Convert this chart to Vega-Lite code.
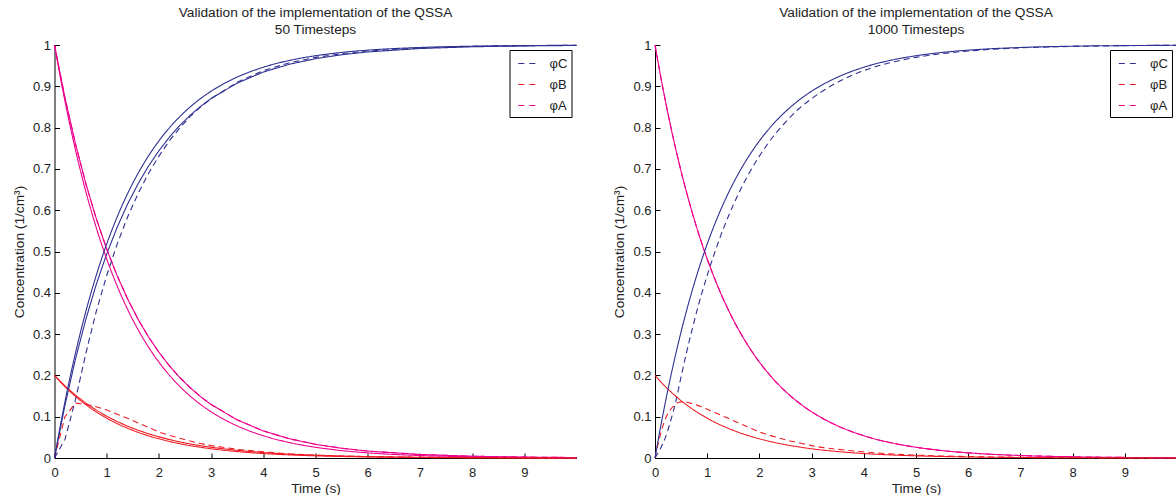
{
  "$schema": "https://vega.github.io/schema/vega-lite/v6.json",
  "padding": {"left": 11.5, "top": 6, "right": 0, "bottom": 0},
  "config": {
    "font": "Liberation Sans",
    "view": {"stroke": null},
    "title": {"fontSize": 13.7, "fontWeight": "normal", "color": "#222", "lineHeight": 17, "offset": 2, "anchor": "middle"},
    "axis": {
      "grid": false,
      "domainColor": "#000",
      "tickColor": "#000",
      "tickSize": -5,
      "labelFontSize": 13,
      "labelColor": "#222",
      "labelFlush": false,
      "labelOverlap": false,
      "titleFontSize": 13.7,
      "titleFontWeight": "normal",
      "titleColor": "#222"
    },
    "axisX": {"labelPadding": 13, "titlePadding": 2},
    "axisY": {"labelPadding": 9, "titlePadding": 6},
    "legend": {
      "orient": "top-right",
      "offset": 5,
      "symbolType": "stroke",
      "symbolDash": [6, 5],
      "symbolSize": 300,
      "symbolStrokeWidth": 1,
      "symbolOffset": 4,
      "labelFontSize": 13,
      "labelColor": "#222",
      "labelOffset": 13,
      "rowPadding": 4,
      "padding": 4,
      "strokeColor": "#000",
      "fillColor": "#fff"
    }
  },
  "data": {
    "values": [
      {"panel": "50", "curve": "exact", "time": 0, "A": 1, "B": 0.2, "C": 0},
      {"panel": "50", "curve": "exact", "time": 0.1, "A": 0.9296, "B": 0.1859, "C": 0.0704},
      {"panel": "50", "curve": "exact", "time": 0.2, "A": 0.8642, "B": 0.1728, "C": 0.1358},
      {"panel": "50", "curve": "exact", "time": 0.3, "A": 0.8033, "B": 0.1607, "C": 0.1967},
      {"panel": "50", "curve": "exact", "time": 0.4, "A": 0.7468, "B": 0.1494, "C": 0.2532},
      {"panel": "50", "curve": "exact", "time": 0.5, "A": 0.6942, "B": 0.1388, "C": 0.3058},
      {"panel": "50", "curve": "exact", "time": 0.6, "A": 0.6453, "B": 0.1291, "C": 0.3547},
      {"panel": "50", "curve": "exact", "time": 0.8, "A": 0.5577, "B": 0.1115, "C": 0.4423},
      {"panel": "50", "curve": "exact", "time": 1, "A": 0.4819, "B": 0.0964, "C": 0.5181},
      {"panel": "50", "curve": "exact", "time": 1.2, "A": 0.4165, "B": 0.0833, "C": 0.5835},
      {"panel": "50", "curve": "exact", "time": 1.4, "A": 0.3599, "B": 0.072, "C": 0.6401},
      {"panel": "50", "curve": "exact", "time": 1.6, "A": 0.311, "B": 0.0622, "C": 0.689},
      {"panel": "50", "curve": "exact", "time": 1.8, "A": 0.2687, "B": 0.0537, "C": 0.7313},
      {"panel": "50", "curve": "exact", "time": 2, "A": 0.2322, "B": 0.0464, "C": 0.7678},
      {"panel": "50", "curve": "exact", "time": 2.25, "A": 0.1935, "B": 0.0387, "C": 0.8065},
      {"panel": "50", "curve": "exact", "time": 2.5, "A": 0.1612, "B": 0.0322, "C": 0.8388},
      {"panel": "50", "curve": "exact", "time": 2.75, "A": 0.1343, "B": 0.0269, "C": 0.8657},
      {"panel": "50", "curve": "exact", "time": 3, "A": 0.1119, "B": 0.0224, "C": 0.8881},
      {"panel": "50", "curve": "exact", "time": 3.5, "A": 0.0777, "B": 0.0155, "C": 0.9223},
      {"panel": "50", "curve": "exact", "time": 4, "A": 0.0539, "B": 0.0108, "C": 0.9461},
      {"panel": "50", "curve": "exact", "time": 4.5, "A": 0.0374, "B": 0.0075, "C": 0.9626},
      {"panel": "50", "curve": "exact", "time": 5, "A": 0.026, "B": 0.0052, "C": 0.974},
      {"panel": "50", "curve": "exact", "time": 5.5, "A": 0.018, "B": 0.0036, "C": 0.982},
      {"panel": "50", "curve": "exact", "time": 6, "A": 0.0125, "B": 0.0025, "C": 0.9875},
      {"panel": "50", "curve": "exact", "time": 7, "A": 0.006, "B": 0.0012, "C": 0.994},
      {"panel": "50", "curve": "exact", "time": 8, "A": 0.0029, "B": 0.0006, "C": 0.9971},
      {"panel": "50", "curve": "exact", "time": 9, "A": 0.0014, "B": 0.0003, "C": 0.9986},
      {"panel": "50", "curve": "exact", "time": 10, "A": 0.0007, "B": 0.0001, "C": 0.9993},

      {"panel": "50", "curve": "numeric", "time": 0, "A": 1, "B": 0.2, "C": 0},
      {"panel": "50", "curve": "numeric", "time": 0.2, "A": 0.8726, "B": 0.1745, "C": 0.1274},
      {"panel": "50", "curve": "numeric", "time": 0.4, "A": 0.7614, "B": 0.1523, "C": 0.2386},
      {"panel": "50", "curve": "numeric", "time": 0.6, "A": 0.6644, "B": 0.1329, "C": 0.3356},
      {"panel": "50", "curve": "numeric", "time": 0.8, "A": 0.5798, "B": 0.116, "C": 0.4202},
      {"panel": "50", "curve": "numeric", "time": 1, "A": 0.5059, "B": 0.1012, "C": 0.4941},
      {"panel": "50", "curve": "numeric", "time": 1.2, "A": 0.4415, "B": 0.0883, "C": 0.5585},
      {"panel": "50", "curve": "numeric", "time": 1.4, "A": 0.3852, "B": 0.077, "C": 0.6148},
      {"panel": "50", "curve": "numeric", "time": 1.6, "A": 0.3362, "B": 0.0672, "C": 0.6638},
      {"panel": "50", "curve": "numeric", "time": 1.8, "A": 0.2933, "B": 0.0587, "C": 0.7067},
      {"panel": "50", "curve": "numeric", "time": 2, "A": 0.256, "B": 0.0512, "C": 0.744},
      {"panel": "50", "curve": "numeric", "time": 2.2, "A": 0.2234, "B": 0.0447, "C": 0.7766},
      {"panel": "50", "curve": "numeric", "time": 2.4, "A": 0.1949, "B": 0.039, "C": 0.8051},
      {"panel": "50", "curve": "numeric", "time": 2.6, "A": 0.1701, "B": 0.034, "C": 0.8299},
      {"panel": "50", "curve": "numeric", "time": 2.8, "A": 0.1484, "B": 0.0297, "C": 0.8516},
      {"panel": "50", "curve": "numeric", "time": 3, "A": 0.1295, "B": 0.0259, "C": 0.8705},
      {"panel": "50", "curve": "numeric", "time": 3.5, "A": 0.0923, "B": 0.0185, "C": 0.9077},
      {"panel": "50", "curve": "numeric", "time": 4, "A": 0.0655, "B": 0.0131, "C": 0.9345},
      {"panel": "50", "curve": "numeric", "time": 4.5, "A": 0.0466, "B": 0.0093, "C": 0.9534},
      {"panel": "50", "curve": "numeric", "time": 5, "A": 0.0331, "B": 0.0066, "C": 0.9669},
      {"panel": "50", "curve": "numeric", "time": 5.5, "A": 0.0236, "B": 0.0047, "C": 0.9764},
      {"panel": "50", "curve": "numeric", "time": 6, "A": 0.0168, "B": 0.0034, "C": 0.9832},
      {"panel": "50", "curve": "numeric", "time": 7, "A": 0.0085, "B": 0.0017, "C": 0.9915},
      {"panel": "50", "curve": "numeric", "time": 8, "A": 0.0043, "B": 0.0009, "C": 0.9957},
      {"panel": "50", "curve": "numeric", "time": 9, "A": 0.0022, "B": 0.0004, "C": 0.9978},
      {"panel": "50", "curve": "numeric", "time": 10, "A": 0.0011, "B": 0.0002, "C": 0.9989},

      {"panel": "50", "curve": "qssa", "time": 0, "A": 1, "B": 0, "C": 0},
      {"panel": "50", "curve": "qssa", "time": 0.2, "A": 0.8726, "B": 0.1, "C": 0.045},
      {"panel": "50", "curve": "qssa", "time": 0.4, "A": 0.7614, "B": 0.133, "C": 0.14},
      {"panel": "50", "curve": "qssa", "time": 0.6, "A": 0.6644, "B": 0.13, "C": 0.253},
      {"panel": "50", "curve": "qssa", "time": 0.8, "A": 0.5798, "B": 0.124, "C": 0.355},
      {"panel": "50", "curve": "qssa", "time": 1, "A": 0.5059, "B": 0.116, "C": 0.442},
      {"panel": "50", "curve": "qssa", "time": 1.2, "A": 0.4415, "B": 0.106, "C": 0.518},
      {"panel": "50", "curve": "qssa", "time": 1.4, "A": 0.3852, "B": 0.096, "C": 0.5835},
      {"panel": "50", "curve": "qssa", "time": 1.6, "A": 0.3362, "B": 0.085, "C": 0.64},
      {"panel": "50", "curve": "qssa", "time": 1.8, "A": 0.2933, "B": 0.074, "C": 0.689},
      {"panel": "50", "curve": "qssa", "time": 2, "A": 0.256, "B": 0.063, "C": 0.731},
      {"panel": "50", "curve": "qssa", "time": 2.2, "A": 0.2234, "B": 0.055, "C": 0.768},
      {"panel": "50", "curve": "qssa", "time": 2.4, "A": 0.1949, "B": 0.048, "C": 0.799},
      {"panel": "50", "curve": "qssa", "time": 2.6, "A": 0.1701, "B": 0.041, "C": 0.827},
      {"panel": "50", "curve": "qssa", "time": 2.8, "A": 0.1484, "B": 0.035, "C": 0.85},
      {"panel": "50", "curve": "qssa", "time": 3, "A": 0.1295, "B": 0.03, "C": 0.87},
      {"panel": "50", "curve": "qssa", "time": 3.5, "A": 0.0923, "B": 0.021, "C": 0.91},
      {"panel": "50", "curve": "qssa", "time": 4, "A": 0.0655, "B": 0.015, "C": 0.938},
      {"panel": "50", "curve": "qssa", "time": 4.5, "A": 0.0466, "B": 0.01, "C": 0.957},
      {"panel": "50", "curve": "qssa", "time": 5, "A": 0.0331, "B": 0.007, "C": 0.97},
      {"panel": "50", "curve": "qssa", "time": 5.5, "A": 0.0236, "B": 0.005, "C": 0.979},
      {"panel": "50", "curve": "qssa", "time": 6, "A": 0.0168, "B": 0.0035, "C": 0.9855},
      {"panel": "50", "curve": "qssa", "time": 7, "A": 0.0085, "B": 0.0017, "C": 0.993},
      {"panel": "50", "curve": "qssa", "time": 8, "A": 0.0043, "B": 0.0008, "C": 0.9966},
      {"panel": "50", "curve": "qssa", "time": 9, "A": 0.0022, "B": 0.0004, "C": 0.9984},
      {"panel": "50", "curve": "qssa", "time": 10, "A": 0.0011, "B": 0.0002, "C": 0.9992},

      {"panel": "1000", "curve": "exact", "time": 0, "A": 1, "B": 0.2, "C": 0},
      {"panel": "1000", "curve": "exact", "time": 0.1, "A": 0.9296, "B": 0.1859, "C": 0.0704},
      {"panel": "1000", "curve": "exact", "time": 0.2, "A": 0.8642, "B": 0.1728, "C": 0.1358},
      {"panel": "1000", "curve": "exact", "time": 0.3, "A": 0.8033, "B": 0.1607, "C": 0.1967},
      {"panel": "1000", "curve": "exact", "time": 0.4, "A": 0.7468, "B": 0.1494, "C": 0.2532},
      {"panel": "1000", "curve": "exact", "time": 0.5, "A": 0.6942, "B": 0.1388, "C": 0.3058},
      {"panel": "1000", "curve": "exact", "time": 0.6, "A": 0.6453, "B": 0.1291, "C": 0.3547},
      {"panel": "1000", "curve": "exact", "time": 0.8, "A": 0.5577, "B": 0.1115, "C": 0.4423},
      {"panel": "1000", "curve": "exact", "time": 1, "A": 0.4819, "B": 0.0964, "C": 0.5181},
      {"panel": "1000", "curve": "exact", "time": 1.2, "A": 0.4165, "B": 0.0833, "C": 0.5835},
      {"panel": "1000", "curve": "exact", "time": 1.4, "A": 0.3599, "B": 0.072, "C": 0.6401},
      {"panel": "1000", "curve": "exact", "time": 1.6, "A": 0.311, "B": 0.0622, "C": 0.689},
      {"panel": "1000", "curve": "exact", "time": 1.8, "A": 0.2687, "B": 0.0537, "C": 0.7313},
      {"panel": "1000", "curve": "exact", "time": 2, "A": 0.2322, "B": 0.0464, "C": 0.7678},
      {"panel": "1000", "curve": "exact", "time": 2.25, "A": 0.1935, "B": 0.0387, "C": 0.8065},
      {"panel": "1000", "curve": "exact", "time": 2.5, "A": 0.1612, "B": 0.0322, "C": 0.8388},
      {"panel": "1000", "curve": "exact", "time": 2.75, "A": 0.1343, "B": 0.0269, "C": 0.8657},
      {"panel": "1000", "curve": "exact", "time": 3, "A": 0.1119, "B": 0.0224, "C": 0.8881},
      {"panel": "1000", "curve": "exact", "time": 3.5, "A": 0.0777, "B": 0.0155, "C": 0.9223},
      {"panel": "1000", "curve": "exact", "time": 4, "A": 0.0539, "B": 0.0108, "C": 0.9461},
      {"panel": "1000", "curve": "exact", "time": 4.5, "A": 0.0374, "B": 0.0075, "C": 0.9626},
      {"panel": "1000", "curve": "exact", "time": 5, "A": 0.026, "B": 0.0052, "C": 0.974},
      {"panel": "1000", "curve": "exact", "time": 5.5, "A": 0.018, "B": 0.0036, "C": 0.982},
      {"panel": "1000", "curve": "exact", "time": 6, "A": 0.0125, "B": 0.0025, "C": 0.9875},
      {"panel": "1000", "curve": "exact", "time": 7, "A": 0.006, "B": 0.0012, "C": 0.994},
      {"panel": "1000", "curve": "exact", "time": 8, "A": 0.0029, "B": 0.0006, "C": 0.9971},
      {"panel": "1000", "curve": "exact", "time": 9, "A": 0.0014, "B": 0.0003, "C": 0.9986},
      {"panel": "1000", "curve": "exact", "time": 10, "A": 0.0007, "B": 0.0001, "C": 0.9993},

      {"panel": "1000", "curve": "qssa", "time": 0, "A": 1, "B": 0, "C": 0},
      {"panel": "1000", "curve": "qssa", "time": 0.1, "A": 0.9296, "B": 0.055, "C": 0.022},
      {"panel": "1000", "curve": "qssa", "time": 0.2, "A": 0.8642, "B": 0.095, "C": 0.05},
      {"panel": "1000", "curve": "qssa", "time": 0.3, "A": 0.8033, "B": 0.118, "C": 0.09},
      {"panel": "1000", "curve": "qssa", "time": 0.4, "A": 0.7468, "B": 0.131, "C": 0.138},
      {"panel": "1000", "curve": "qssa", "time": 0.5, "A": 0.6942, "B": 0.136, "C": 0.197},
      {"panel": "1000", "curve": "qssa", "time": 0.6, "A": 0.6453, "B": 0.135, "C": 0.253},
      {"panel": "1000", "curve": "qssa", "time": 0.8, "A": 0.5577, "B": 0.128, "C": 0.355},
      {"panel": "1000", "curve": "qssa", "time": 1, "A": 0.4819, "B": 0.118, "C": 0.442},
      {"panel": "1000", "curve": "qssa", "time": 1.2, "A": 0.4165, "B": 0.107, "C": 0.518},
      {"panel": "1000", "curve": "qssa", "time": 1.4, "A": 0.3599, "B": 0.096, "C": 0.5835},
      {"panel": "1000", "curve": "qssa", "time": 1.6, "A": 0.311, "B": 0.085, "C": 0.64},
      {"panel": "1000", "curve": "qssa", "time": 1.8, "A": 0.2687, "B": 0.074, "C": 0.689},
      {"panel": "1000", "curve": "qssa", "time": 2, "A": 0.2322, "B": 0.063, "C": 0.731},
      {"panel": "1000", "curve": "qssa", "time": 2.25, "A": 0.1935, "B": 0.053, "C": 0.776},
      {"panel": "1000", "curve": "qssa", "time": 2.5, "A": 0.1612, "B": 0.044, "C": 0.813},
      {"panel": "1000", "curve": "qssa", "time": 2.75, "A": 0.1343, "B": 0.037, "C": 0.845},
      {"panel": "1000", "curve": "qssa", "time": 3, "A": 0.1119, "B": 0.03, "C": 0.87},
      {"panel": "1000", "curve": "qssa", "time": 3.5, "A": 0.0777, "B": 0.021, "C": 0.91},
      {"panel": "1000", "curve": "qssa", "time": 4, "A": 0.0539, "B": 0.015, "C": 0.938},
      {"panel": "1000", "curve": "qssa", "time": 4.5, "A": 0.0374, "B": 0.01, "C": 0.957},
      {"panel": "1000", "curve": "qssa", "time": 5, "A": 0.026, "B": 0.007, "C": 0.97},
      {"panel": "1000", "curve": "qssa", "time": 5.5, "A": 0.018, "B": 0.005, "C": 0.979},
      {"panel": "1000", "curve": "qssa", "time": 6, "A": 0.0125, "B": 0.0035, "C": 0.9855},
      {"panel": "1000", "curve": "qssa", "time": 7, "A": 0.006, "B": 0.0017, "C": 0.993},
      {"panel": "1000", "curve": "qssa", "time": 8, "A": 0.0029, "B": 0.0008, "C": 0.9966},
      {"panel": "1000", "curve": "qssa", "time": 9, "A": 0.0014, "B": 0.0004, "C": 0.9984},
      {"panel": "1000", "curve": "qssa", "time": 10, "A": 0.0007, "B": 0.0002, "C": 0.9992}
    ]
  },
  "transform": [{"fold": ["A", "B", "C"], "as": ["species", "value"]}],
  "resolve": {"legend": {"color": "independent"}},
  "spacing": 32.5,
  "hconcat": [
    {
      "title": {"text": ["Validation of the implementation of the QSSA", "50 Timesteps"]},
      "width": 522,
      "height": 413,
      "transform": [{"filter": "datum.panel === '50'"}],
      "encoding": {
        "x": {"field": "time", "type": "quantitative", "scale": {"domain": [0, 10], "nice": false},
              "axis": {"values": [0, 1, 2, 3, 4, 5, 6, 7, 8, 9], "title": "Time (s)"}},
        "y": {"field": "value", "type": "quantitative", "scale": {"domain": [0, 1], "nice": false},
              "axis": {"values": [0, 0.1, 0.2, 0.3, 0.4, 0.5, 0.6, 0.7, 0.8, 0.9, 1], "format": "~g", "title": "Concentration (1/cm³)"}},
        "color": {"field": "species", "type": "nominal",
                  "scale": {"domain": ["C", "B", "A"], "range": ["#2e3192", "#ed1c24", "#ec008c"]},
                  "legend": {"title": null, "labelExpr": "'φ' + datum.label"}},
        "strokeDash": {"field": "curve", "type": "nominal",
                       "scale": {"domain": ["exact", "numeric", "qssa"], "range": [[1, 0], [1, 0], [6, 4]]},
                       "legend": null}
      },
      "layer": [
        {"transform": [{"filter": "datum.curve !== 'exact'"}], "mark": {"type": "line", "strokeWidth": 1.1}},
        {"transform": [{"filter": "datum.curve === 'exact'"}], "mark": {"type": "line", "interpolate": "monotone", "strokeWidth": 1.1}}
      ]
    },
    {
      "title": {"text": ["Validation of the implementation of the QSSA", "1000 Timesteps"]},
      "width": 522,
      "height": 413,
      "transform": [{"filter": "datum.panel === '1000'"}],
      "encoding": {
        "x": {"field": "time", "type": "quantitative", "scale": {"domain": [0, 10], "nice": false},
              "axis": {"values": [0, 1, 2, 3, 4, 5, 6, 7, 8, 9], "title": "Time (s)"}},
        "y": {"field": "value", "type": "quantitative", "scale": {"domain": [0, 1], "nice": false},
              "axis": {"values": [0, 0.1, 0.2, 0.3, 0.4, 0.5, 0.6, 0.7, 0.8, 0.9, 1], "format": "~g", "title": "Concentration (1/cm³)"}},
        "color": {"field": "species", "type": "nominal",
                  "scale": {"domain": ["C", "B", "A"], "range": ["#2e3192", "#ed1c24", "#ec008c"]},
                  "legend": {"title": null, "labelExpr": "'φ' + datum.label"}},
        "strokeDash": {"field": "curve", "type": "nominal",
                       "scale": {"domain": ["exact", "numeric", "qssa"], "range": [[1, 0], [1, 0], [6, 4]]},
                       "legend": null}
      },
      "layer": [
        {"transform": [{"filter": "datum.curve === 'qssa'"}], "mark": {"type": "line", "interpolate": "monotone", "strokeWidth": 1.1}},
        {"transform": [{"filter": "datum.curve === 'exact'"}], "mark": {"type": "line", "interpolate": "monotone", "strokeWidth": 1.1}}
      ]
    }
  ]
}
